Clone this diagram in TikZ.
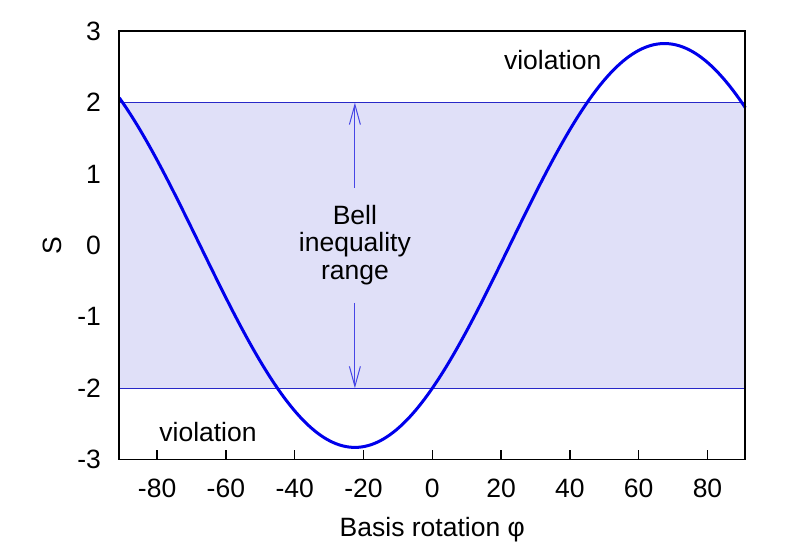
\documentclass[tikz,border=0pt]{standalone}
\usepackage{fontspec}
\setmainfont{Liberation Sans}
\usetikzlibrary{arrows.meta}
\definecolor{bandfill}{RGB}{224,224,248}
\definecolor{bandline}{RGB}{40,40,200}
\definecolor{arrowcol}{RGB}{70,70,230}
\definecolor{curvecol}{RGB}{0,0,235}
\tikzset{
  lbl/.style={font=\fontsize{26.5}{28}\selectfont, inner sep=0pt},
  framebox/.style={draw=black, line width=1.6pt},
  bandedge/.style={draw=bandline, line width=0.9pt},
  curve/.style={draw=curvecol, line width=3pt},
  rangearrow/.style={draw=arrowcol, line width=1pt, -{Straight Barb[length=20pt,width=11pt,line width=1pt]}},
  tickmark/.style={draw=black, line width=1.5pt}
}
\begin{document}
\begin{tikzpicture}[x=3.44pt, y=71.4pt]
\useasboundingbox (-125.67,-4.251) rectangle (102.53,3.438);
% band
\fill[bandfill] (-91,-2) rectangle (91,2);
\draw[bandedge] (-91,2) -- (91,2);
\draw[bandedge] (-91,-2) -- (91,-2);
% range arrows and label
\node[lbl, align=center, font=\fontsize{26.5}{27.5}\selectfont] (bell) at (-22.5,0.01) {Bell\\inequality\\range};
\coordinate (upstart) at (-22.5,0.805);
\coordinate (upend) at (-22.5,2);
\coordinate (downstart) at (-22.5,-0.805);
\coordinate (downend) at (-22.5,-2);
\draw[rangearrow] (upstart) -- (upend);
\draw[rangearrow] (downstart) -- (downend);
% ticks
\foreach \t in {-80,-60,-40,-20,0,20,40,60,80}{
  \draw[tickmark] (\t,-3) -- (\t,-2.86);
  \node[lbl] (xt\t) at (\t,-3.40) {\t};
}
\foreach \s in {-3,-2,-1,0,1,2,3}{
  \node[lbl, anchor=east] (yt\s) at (-96.3,\s) {\s};
}
% curve
\draw[curve, line join=round] plot[domain=-91:91, samples=200, smooth] (\x,{2*sqrt(2)*cos(2*(\x-67.5))});
% frame
\node[framebox, inner sep=0pt, minimum width=626pt, minimum height=428.4pt] (frame) at (0,0) {};
% labels
\node[lbl] (xlabel) at (0,-3.98) {Basis rotation φ};
\node[lbl, rotate=90] (ylabel) at (-110.3,0) {S};
\node[lbl] (vtop) at (35.0,2.6) {violation};
\node[lbl] (vbot) at (-65.2,-2.61) {violation};
\end{tikzpicture}
\end{document}
